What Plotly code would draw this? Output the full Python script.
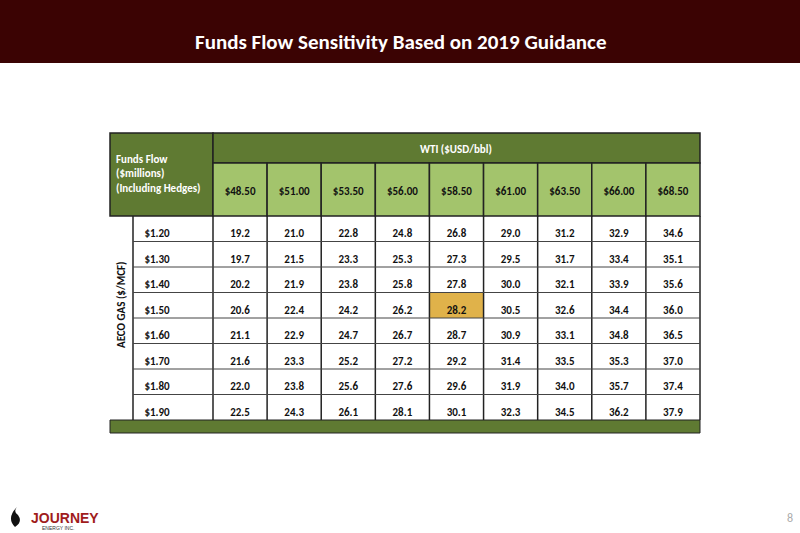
import plotly.graph_objects as go

wti = ["$48.50","$51.00","$53.50","$56.00","$58.50","$61.00","$63.50","$66.00","$68.50"]
gas = ["$1.20","$1.30","$1.40","$1.50","$1.60","$1.70","$1.80","$1.90"]
values = [
    [19.2,21.0,22.8,24.8,26.8,29.0,31.2,32.9,34.6],
    [19.7,21.5,23.3,25.3,27.3,29.5,31.7,33.4,35.1],
    [20.2,21.9,23.8,25.8,27.8,30.0,32.1,33.9,35.6],
    [20.6,22.4,24.2,26.2,28.2,30.5,32.6,34.4,36.0],
    [21.1,22.9,24.7,26.7,28.7,30.9,33.1,34.8,36.5],
    [21.6,23.3,25.2,27.2,29.2,31.4,33.5,35.3,37.0],
    [22.0,23.8,25.6,27.6,29.6,31.9,34.0,35.7,37.4],
    [22.5,24.3,26.1,28.1,30.1,32.3,34.5,36.2,37.9],
]
highlight = ("$58.50", "$1.50")

TL, LC, TR = 110, 213, 700
HT, HM, HB = 133, 163, 216
RB = 420
cw = (TR - LC) / len(wti)
rh = (RB - HB) / len(gas)
dark = "#5f7a32"; light = "#a3c46c"; title_bg = "#3b0303"
F = "Calibri, Carlito, Lato, sans-serif"
B = "below"

shapes = [
    dict(type="rect", x0=0, x1=800, y0=0, y1=63, fillcolor=title_bg, line_width=0, layer=B),
    dict(type="rect", x0=TL, x1=LC, y0=HT, y1=HB, fillcolor=dark, line=dict(color="#222", width=1.5), layer=B),
    dict(type="rect", x0=LC, x1=TR, y0=HT, y1=HM, fillcolor=dark, line=dict(color="#222", width=1.5), layer=B),
    dict(type="rect", x0=TL, x1=TR, y0=RB, y1=RB+13, fillcolor=dark, line=dict(color="#222", width=1), layer=B),
    dict(type="line", x0=133, x1=133, y0=HB, y1=RB, line=dict(color="#222", width=1.5)),
]
for i, w in enumerate(wti):
    x0 = LC + i*cw
    shapes.append(dict(type="rect", x0=x0, x1=x0+cw, y0=HM, y1=HB, fillcolor=light, line=dict(color="#222", width=1.5), layer=B))
    shapes.append(dict(type="line", x0=x0, x1=x0, y0=HB, y1=RB, line=dict(color="#222", width=1.5)))
shapes.append(dict(type="line", x0=TR, x1=TR, y0=HB, y1=RB, line=dict(color="#222", width=1.5)))
for j, g in enumerate(gas):
    y1 = HB + (j+1)*rh
    if g == highlight[1]:
        i = wti.index(highlight[0])
        shapes.append(dict(type="rect", x0=LC+i*cw, x1=LC+(i+1)*cw, y0=y1-rh, y1=y1, fillcolor="#e0b24a", line_width=0, layer=B))
    if j < len(gas)-1:
        shapes.append(dict(type="line", x0=133, x1=TR, y0=y1, y1=y1, line=dict(color="#444", width=1)))

fig = go.Figure()
fig.add_trace(go.Scatter(x=[LC+(i+0.5)*cw for i in range(len(wti))], y=[(HM+HB)/2+3]*len(wti),
    mode="text", text=["<b>%s</b>" % w for w in wti], textfont=dict(family=F, size=11, color="#111"), hoverinfo="skip"))
xs, ys, ts = [], [], []
for j, row in enumerate(values):
    for i, v in enumerate(row):
        xs.append(LC+(i+0.5)*cw); ys.append(HB+j*rh+rh*0.72); ts.append("<b>%.1f</b>" % v)
fig.add_trace(go.Scatter(x=xs, y=ys, mode="text", text=ts, textfont=dict(family=F, size=11, color="#111"), hoverinfo="skip"))
fig.add_trace(go.Scatter(x=[157]*len(gas), y=[HB+j*rh+rh*0.72 for j in range(len(gas))], mode="text",
    text=["<b>%s</b>" % g for g in gas], textfont=dict(family=F, size=11, color="#111"), hoverinfo="skip"))

ann = [
    dict(x=400, y=42, text="<b>Funds Flow Sensitivity Based on 2019 Guidance</b>", font=dict(family=F, size=21, color="white")),
    dict(x=456, y=149, text="<b>WTI ($USD/bbl)</b>", font=dict(family=F, size=11, color="white")),
    dict(x=114, y=174, xanchor="left", align="left", text="<b>Funds Flow<br>($millions)<br>(Including Hedges)</b>", font=dict(family=F, size=11, color="white")),
    dict(x=121, y=305, text="<b>AECO GAS ($/MCF)</b>", textangle=-90, font=dict(family=F, size=11, color="#111")),
    dict(x=29, y=518, xanchor="left", text="<b>JOURNEY</b>", font=dict(family="Liberation Sans", size=14, color="#a01c1c")),
    dict(x=40, y=528, xanchor="left", text="ENERGY INC.", font=dict(family="Liberation Sans", size=5, color="#333")),
    dict(x=790, y=518, text="8", font=dict(family=F, size=12, color="#aaa")),
]
for a in ann:
    a.update(xref="x", yref="y", showarrow=False)
shapes.append(dict(type="path", path="M 17 507 Q 6 518 15 527 Q 23 522 18 515 Q 13 512 17 507 Z", fillcolor="#111", line_width=0))

fig.update_layout(width=800, height=533, margin=dict(l=0, r=0, t=0, b=0), showlegend=False,
    plot_bgcolor="white", paper_bgcolor="white", shapes=shapes, annotations=ann,
    xaxis=dict(range=[0, 800], visible=False, fixedrange=True),
    yaxis=dict(range=[533, 0], visible=False, fixedrange=True))
fig.write_html("out.html", config={"displayModeBar": False},
               post_script="document.body.style.margin='0';document.body.style.overflow='hidden';")
